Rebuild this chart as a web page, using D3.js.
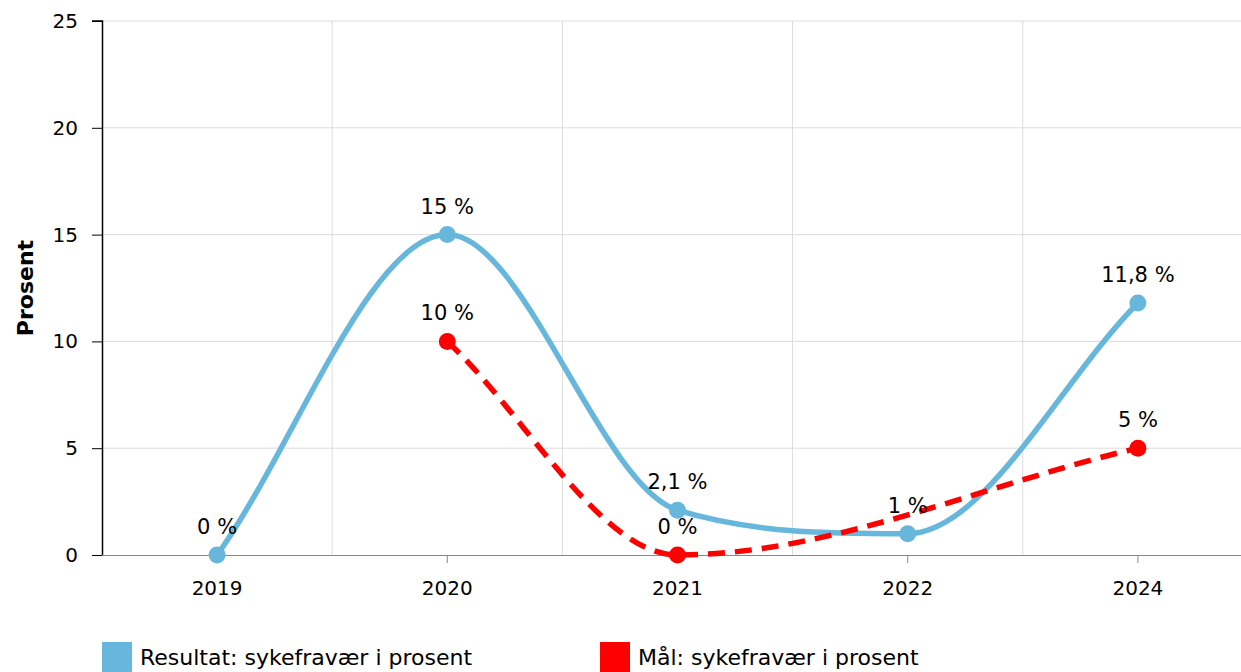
<!DOCTYPE html>
<html>
<head>
<meta charset="utf-8">
<script src="https://cdn.jsdelivr.net/npm/d3@7"></script>
<style>
body { margin: 0; background: #fff; }
text { font-family: "DejaVu Sans", Verdana, sans-serif; }
</style>
</head>
<body>
<div id="chart"></div>
<script>
// Data
var years = ["2019", "2020", "2021", "2022", "2024"];
var resultat = [0, 15, 2.1, 1, 11.8];
var maal = [null, 10, 0, null, 5];
var yTicks = [0, 5, 10, 15, 20, 25];
var seriesNames = ["Resultat: sykefravær i prosent", "Mål: sykefravær i prosent"];
var colors = ["#67b7dc", "#ff0000"];

var width = 1241;
var height = 672;
var margin = {t: 21, r: -12, b: 117, l: 102};

var svg = d3.select("#chart")
	.append("svg")
	.attr("width", width)
	.attr("height", height);

var x = d3.scaleBand()
	.domain(years)
	.range([margin.l, width - margin.r]);

var y = d3.scaleLinear()
	.domain([0, 25])
	.range([height - margin.b, margin.t]);

function fmt(v) { return String(v).replace(".", ",") + " %"; }

// grid
svg.append("g")
	.selectAll("line")
	.data(yTicks.slice(1))
	.enter().append("line")
		.attr("x1", margin.l).attr("x2", width)
		.attr("y1", d => y(d)).attr("y2", d => y(d))
		.attr("stroke", "#dcdcdc").attr("stroke-width", 1);

svg.append("g")
	.selectAll("line")
	.data(years.slice(1))
	.enter().append("line")
		.attr("x1", d => x(d)).attr("x2", d => x(d))
		.attr("y1", y(0)).attr("y2", y(25))
		.attr("stroke", "#dcdcdc").attr("stroke-width", 1);

// x axis
var gx = svg.append("g")
	.attr("transform", "translate(0," + y(0) + ")")
	.call(d3.axisBottom(x).tickSize(8).tickPadding(18));
gx.select(".domain").attr("stroke", "#888").attr("d", "M" + margin.l + ",0.5H" + width);
gx.selectAll(".tick line").attr("stroke", "#888");
gx.selectAll("text").attr("font-size", 20).attr("fill", "#000")
	.style("font-family", "'DejaVu Sans', Verdana, sans-serif");

// y axis
var gy = svg.append("g")
	.attr("transform", "translate(" + margin.l + ",0)")
	.call(d3.axisLeft(y).tickValues(yTicks).tickSize(10).tickPadding(14));
gy.select(".domain").attr("stroke", "#000").attr("stroke-width", 1.5).attr("d", "M0.5," + y(0) + "V" + y(25) + "H-10");
gy.selectAll(".tick line").attr("stroke", "#000");
gy.selectAll("text").attr("font-size", 20).attr("fill", "#000")
	.style("font-family", "'DejaVu Sans', Verdana, sans-serif");

svg.append("text")
	.attr("transform", "translate(33," + ((y(0) + y(25)) / 2) + ") rotate(-90)")
	.attr("text-anchor", "middle")
	.attr("font-size", 22)
	.attr("font-weight", "bold")
	.text("Prosent");

// monotone spline (Fritsch-Carlson, end tangents = end secants)
function spline(pts) {
	var p = pts.map(d => ({x: x(d.k) + x.bandwidth() / 2, y: y(d.v)}));
	var n = p.length, dk = [], m = [];
	for (var i = 0; i < n - 1; i++) dk[i] = (p[i + 1].y - p[i].y) / (p[i + 1].x - p[i].x);
	for (i = 0; i < n; i++) {
		if (i === 0) m[i] = dk[0];
		else if (i === n - 1) m[i] = dk[n - 2];
		else if (dk[i - 1] * dk[i] <= 0) m[i] = 0;
		else m[i] = (dk[i - 1] + dk[i]) / 2;
	}
	for (i = 0; i < n - 1; i++) {
		if (dk[i] === 0) { m[i] = m[i + 1] = 0; continue; }
		var a = m[i] / dk[i], b = m[i + 1] / dk[i], sq = a * a + b * b;
		if (sq <= 9) continue;
		var tau = 3 / Math.sqrt(sq);
		m[i] = a * tau * dk[i];
		m[i + 1] = b * tau * dk[i];
	}
	var path = d3.path();
	path.moveTo(p[0].x, p[0].y);
	for (i = 1; i < n; i++) {
		var h = (p[i].x - p[i - 1].x) / 3;
		path.bezierCurveTo(p[i - 1].x + h, p[i - 1].y + m[i - 1] * h,
			p[i].x - h, p[i].y - m[i] * h, p[i].x, p[i].y);
	}
	return path.toString();
}

function pts(arr) {
	return years.map((k, i) => ({k: k, v: arr[i]})).filter(d => d.v !== null);
}

var series = [pts(resultat), pts(maal)];

svg.append("path")
	.attr("d", spline(series[0]))
	.attr("fill", "none")
	.attr("stroke", colors[0])
	.attr("stroke-width", 5.5)
	.attr("stroke-linecap", "round");

svg.append("path")
	.attr("d", spline(series[1]))
	.attr("fill", "none")
	.attr("stroke", colors[1])
	.attr("stroke-width", 5.5)
	.attr("stroke-dasharray", "17,10");

series.forEach(function(s, i) {
	var g = svg.append("g");
	g.selectAll("circle")
		.data(s)
		.enter().append("circle")
			.attr("cx", d => x(d.k) + x.bandwidth() / 2)
			.attr("cy", d => y(d.v))
			.attr("r", 8.5)
			.attr("fill", colors[i]);
	g.selectAll("text")
		.data(s)
		.enter().append("text")
			.attr("x", d => x(d.k) + x.bandwidth() / 2)
			.attr("y", d => y(d.v) - 21)
			.attr("text-anchor", "middle")
			.attr("font-size", 21)
			.text(d => fmt(d.v));
});

// legend
var legendX = [102, 600];
seriesNames.forEach(function(n, i) {
	svg.append("rect")
		.attr("x", legendX[i]).attr("y", 642)
		.attr("width", 30).attr("height", 30)
		.attr("fill", colors[i]);
	svg.append("text")
		.attr("x", legendX[i] + 38).attr("y", 665)
		.attr("font-size", 22)
		.text(n);
});
</script>
</body>
</html>
